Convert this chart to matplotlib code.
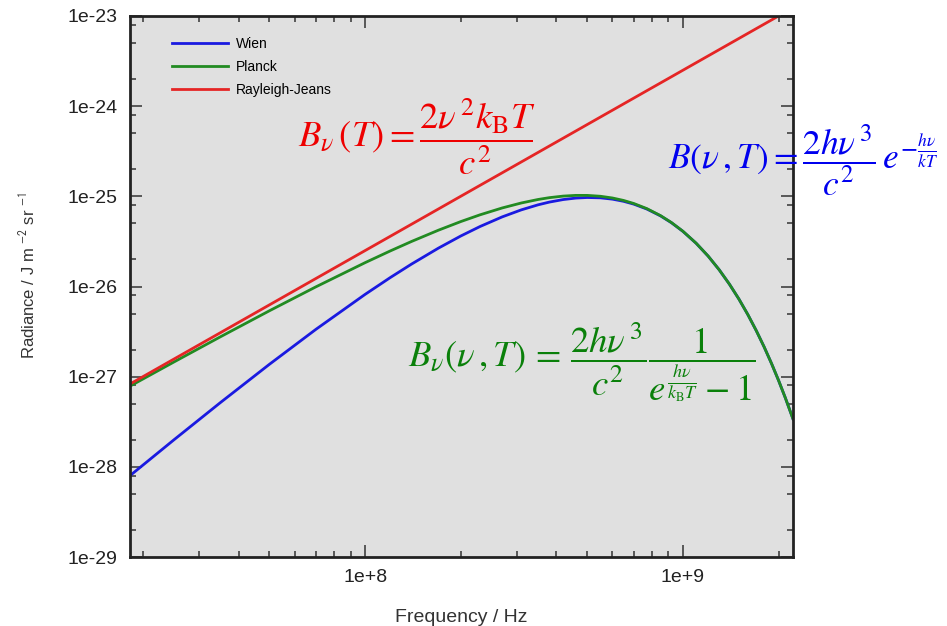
import matplotlib
matplotlib.use("Agg")
import matplotlib.pyplot as plt
from matplotlib.ticker import LogLocator, NullFormatter, FixedLocator, FixedFormatter

# ---- data ----
freq = [1.8e7, 2.5e7, 3.5e7, 5e7, 7e7, 1e8, 1.2e8, 1.4e8, 1.7e8, 2e8, 2.3e8, 2.7e8,
        3.1e8, 3.5e8, 3.8e8, 4.2e8, 4.6e8, 5e8, 5.5e8, 6e8, 6.5e8, 7e8, 7.7e8, 8.5e8,
        9.2e8, 1e9, 1.1e9, 1.2e9, 1.3e9, 1.4e9, 1.5e9, 1.6e9, 1.7e9, 1.8e9, 1.9e9,
        2e9, 2.1e9, 2.22e9]

rayleigh_jeans = [8.11e-28, 1.565e-27, 3.067e-27, 6.26e-27, 1.227e-26, 2.504e-26, 3.606e-26,
                  4.908e-26, 7.237e-26, 1.002e-25, 1.325e-25, 1.825e-25, 2.406e-25, 3.067e-25,
                  3.616e-25, 4.417e-25, 5.298e-25, 6.26e-25, 7.575e-25, 9.014e-25, 1.058e-24,
                  1.227e-24, 1.485e-24, 1.809e-24, 2.119e-24, 2.504e-24, 3.030e-24, 3.606e-24,
                  4.232e-24, 4.908e-24, 5.634e-24, 6.41e-24, 7.237e-24, 8.113e-24, 9.039e-24,
                  1.002e-23, 1.104e-23, 1.234e-23]

planck = [7.69e-28, 1.452e-27, 2.762e-27, 5.384e-27, 9.914e-27, 1.839e-26, 2.481e-26, 3.160e-26,
          4.209e-26, 5.250e-26, 6.241e-26, 7.434e-26, 8.438e-26, 9.226e-26, 9.667e-26, 1.006e-25,
          1.0245e-25, 1.0243e-25, 1.0016e-25, 9.587e-26, 9.009e-26, 8.334e-26, 7.308e-26,
          6.114e-26, 5.121e-26, 4.099e-26, 3.025e-26, 2.178e-26, 1.535e-26, 1.064e-26,
          7.263e-27, 4.89e-27, 3.256e-27, 2.147e-27, 1.400e-27, 9.066e-28, 5.823e-28, 3.396e-28]

wien = [7.735e-29, 1.989e-28, 5.144e-28, 1.373e-27, 3.349e-27, 8.183e-27, 1.257e-26, 1.774e-26,
        2.662e-26, 3.633e-26, 4.630e-26, 5.918e-26, 7.078e-26, 8.050e-26, 8.635e-26, 9.21e-26,
        9.563e-26, 9.705e-26, 9.624e-26, 9.306e-26, 8.813e-26, 8.199e-26, 7.230e-26, 6.073e-26,
        5.098e-26, 4.087e-26, 3.020e-26, 2.176e-26, 1.535e-26, 1.063e-26, 7.262e-27, 4.89e-27,
        3.256e-27, 2.147e-27, 1.400e-27, 9.066e-28, 5.823e-28, 3.396e-28]

series_names = ["Wien", "Planck", "Rayleigh-Jeans"]
y_ticks = [1e-29, 1e-28, 1e-27, 1e-26, 1e-25, 1e-24, 1e-23]
y_tick_labels = ["1e-29", "1e-28", "1e-27", "1e-26", "1e-25", "1e-24", "1e-23"]
x_ticks = [1e8, 1e9]
x_tick_labels = ["1e+8", "1e+9"]

plt.rcParams['mathtext.fontset'] = 'stix'
plt.rcParams['font.family'] = ['Liberation Sans', 'DejaVu Sans']

W, H = 947, 626
fig = plt.figure(figsize=(W / 100, H / 100), dpi=100)
ax = fig.add_axes([130 / W, 1 - 557 / H, (793 - 130) / W, (557 - 16) / H])
ax.set_facecolor('#e0e0e0')

ax.plot(freq, wien, color='#1a1ae0', lw=2.0, label=series_names[0])
ax.plot(freq, planck, color='#228b22', lw=2.0, label=series_names[1])
ax.plot(freq, rayleigh_jeans, color='#e52525', lw=2.0, label=series_names[2])

ax.set_xscale('log')
ax.set_yscale('log')
ax.set_xlim(1.82e7, 2.22e9)
ax.set_ylim(1e-29, 1e-23)

ax.xaxis.set_major_locator(FixedLocator(x_ticks))
ax.xaxis.set_major_formatter(FixedFormatter(x_tick_labels))
ax.xaxis.set_minor_locator(LogLocator(base=10, subs=[2, 3, 4, 5, 6, 7, 8, 9]))
ax.xaxis.set_minor_formatter(NullFormatter())
ax.yaxis.set_major_locator(FixedLocator(y_ticks))
ax.yaxis.set_major_formatter(FixedFormatter(y_tick_labels))
ax.yaxis.set_minor_locator(LogLocator(base=10, subs=[2, 5, 8]))
ax.yaxis.set_minor_formatter(NullFormatter())

ax.tick_params(which='both', direction='in', top=True, right=True, color='#333333')
ax.tick_params(which='major', length=8.5, width=1.1, labelsize=14, labelcolor='#222222', pad=9)
ax.tick_params(which='minor', length=4, width=1.1)
for s in ax.spines.values():
    s.set_linewidth(2.0)
    s.set_color('#222222')

ax.set_xlabel('Frequency / Hz', fontsize=14, color='#333333', labelpad=16)
ax.set_ylabel(r'Radiance / J m $^{\mathsf{-2}}$ sr $^{\mathsf{-1}}$', fontsize=12, color='#333333')
ax.yaxis.set_label_coords(-0.14, 0.52)

leg = ax.legend(loc='upper left', bbox_to_anchor=(0.045, 0.985), frameon=False,
                fontsize=10, handlelength=4.0, handletextpad=0.6, labelspacing=0.65)

# formulas
fig.text(298 / W, 1 - 137 / H,
         r'$B_\nu\,(T) = \dfrac{2\nu^{\,2} k_{\mathrm{B}} T}{c^2}$',
         color='#ee0000', fontsize=26.5, ha='left', va='center')
fig.text(668 / W, 1 - 161 / H,
         r'$B(\nu\,,T) = \dfrac{2h\nu^{\,3}}{c^2}\,e^{-\frac{h\nu}{kT}}$',
         color='#0000ee', fontsize=25.5, ha='left', va='center')
fig.text(408 / W, 1 - 362 / H,
         r'$B_\nu(\nu\,,T) \,=\, \dfrac{2h\nu^{\,3}}{c^2}\dfrac{1}{e^{\frac{h\nu}{k_{\mathrm{B}}T}} - 1}$',
         color='#0a800a', fontsize=26.5, ha='left', va='center')

fig.savefig('out.png', dpi=100)
